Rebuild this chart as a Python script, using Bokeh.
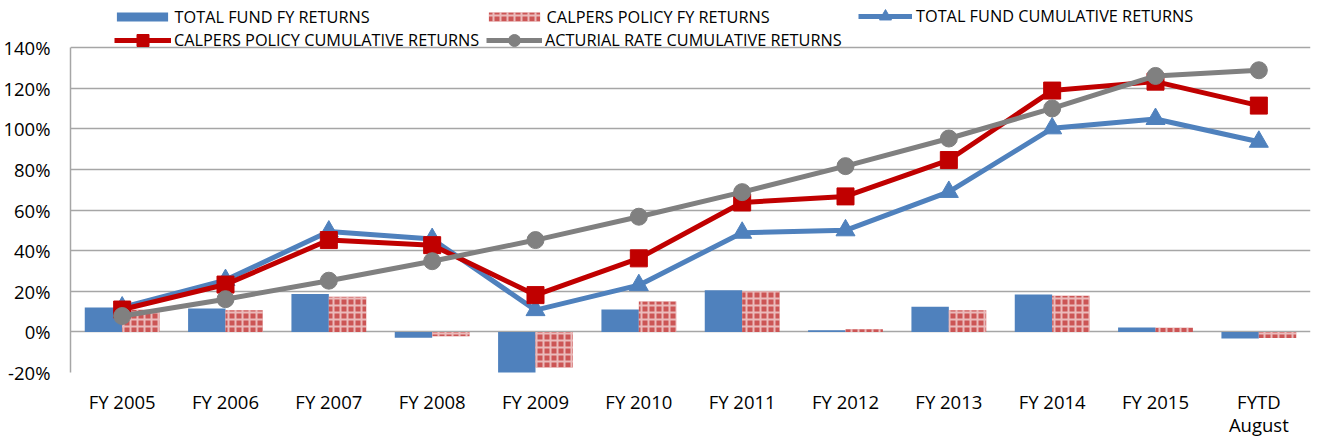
from bokeh.plotting import figure
from bokeh.models import (FactorRange, Range1d, ColumnDataSource, Legend, LegendItem,
                          PrintfTickFormatter, FixedTicker)
from bokeh.transform import dodge
from bokeh.embed import file_html
from bokeh.resources import INLINE

categories = ["FY 2005", "FY 2006", "FY 2007", "FY 2008", "FY 2009", "FY 2010",
              "FY 2011", "FY 2012", "FY 2013", "FY 2014", "FY 2015", "FYTD\nAugust"]
total_fund_fy = [12.0, 11.5, 18.6, -2.9, -21.3, 11.0, 20.5, 0.8, 12.4, 18.4, 2.2, -3.2]
calpers_policy_fy = [10.9, 10.7, 17.3, -2.1, -17.5, 15.0, 20.0, 1.3, 10.7, 17.8, 2.0, -3.0]
total_fund_cum = [12.0, 25.5, 49.4, 45.7, 10.7, 23.0, 48.8, 50.0, 68.9, 100.2, 104.8, 93.6]
calpers_policy_cum = [11.0, 23.3, 45.2, 42.7, 18.1, 36.2, 63.7, 66.7, 84.6, 118.8, 123.2, 111.4]
actuarial_cum = [7.8, 16.1, 25.2, 34.8, 45.2, 56.7, 68.8, 81.6, 95.2, 110.0, 126.0, 128.8]
y_ticks = [-20, 0, 20, 40, 60, 80, 100, 120, 140]
legend_labels = ["TOTAL FUND FY RETURNS", "CALPERS POLICY FY RETURNS",
                 "TOTAL FUND CUMULATIVE RETURNS", "CALPERS POLICY CUMULATIVE RETURNS",
                 "ACTURIAL RATE CUMULATIVE RETURNS"]

src = ColumnDataSource(dict(cat=categories, tf=total_fund_fy, cp=calpers_policy_fy,
                            tfc=total_fund_cum, cpc=calpers_policy_cum, ac=actuarial_cum))

FONT = "Open Sans"
BLUE = "#4F81BD"
RED = "#C00000"
GRAY = "#808080"
GRID = "#A6A6A6"

# frame extends above the 140% line to leave room for the legend rows
p = figure(x_range=FactorRange(*categories, range_padding=0),
           y_range=Range1d(-20, 163.14),
           frame_width=1240, frame_height=372,
           output_backend="svg", toolbar_location=None,
           min_border_left=67, min_border_right=6, min_border_top=0, min_border_bottom=52)
p.outline_line_color = None
p.background_fill_color = "white"

r_b = p.vbar(x=dodge("cat", -0.181, range=p.x_range), top="tf", width=0.362, source=src,
             fill_color=BLUE, line_color=None)
r_r = p.vbar(x=dodge("cat", 0.181, range=p.x_range), top="cp", width=0.362, source=src,
             fill_color="#CC5555", line_color=None, hatch_pattern="cross",
             hatch_color="white", hatch_scale=7, hatch_weight=2.0, hatch_alpha=0.6)

l_b = p.line("cat", "tfc", source=src, line_color=BLUE, line_width=5)
s_b = p.scatter("cat", "tfc", source=src, marker="triangle", size=19, fill_color=BLUE, line_color=BLUE)
l_r = p.line("cat", "cpc", source=src, line_color=RED, line_width=5)
s_r = p.scatter("cat", "cpc", source=src, marker="square", size=17, fill_color=RED, line_color=RED)
l_g = p.line("cat", "ac", source=src, line_color=GRAY, line_width=5)
s_g = p.scatter("cat", "ac", source=src, marker="circle", size=17, fill_color=GRAY, line_color=GRAY)

p.xgrid.grid_line_color = None
p.ygrid.grid_line_color = GRID
p.ygrid.grid_line_width = 1.5
p.ygrid.ticker = FixedTicker(ticks=y_ticks)

p.yaxis.ticker = FixedTicker(ticks=y_ticks)
p.yaxis.bounds = (y_ticks[0], y_ticks[-1])
p.yaxis.formatter = PrintfTickFormatter(format="%d%%")
p.yaxis.axis_line_color = GRID
p.yaxis.axis_line_width = 1.5
p.yaxis.major_tick_line_color = None
p.yaxis.minor_tick_line_color = None
p.yaxis.major_label_standoff = 14
p.yaxis.major_label_text_font = FONT
p.yaxis.major_label_text_font_size = "18.5px"
p.yaxis.major_label_text_color = "black"

p.xaxis.axis_line_color = None
p.xaxis.major_tick_line_color = None
p.xaxis.minor_tick_line_color = None
p.xaxis.major_label_standoff = 10
p.xaxis.major_label_text_font = FONT
p.xaxis.major_label_text_font_size = "18.5px"
p.xaxis.major_label_text_color = "black"
p.xaxis.major_label_text_line_height = 0.93


def add_legend(label, renderers, vx, vy, glyph_w, glyph_h, standoff):
    lg = Legend(items=[LegendItem(label=label, renderers=renderers)],
                location=(vx, vy), padding=0, margin=0, spacing=0,
                border_line_color=None, background_fill_alpha=0,
                glyph_width=glyph_w, glyph_height=glyph_h, label_height=glyph_h,
                label_standoff=standoff, label_text_font=FONT,
                label_text_font_size="16.3px", label_text_color="black")
    p.add_layout(lg, "center")


add_legend(legend_labels[0], [r_b], 39.6, 344.5, 64, 11, 1)
add_legend(legend_labels[1], [r_r], 411.6, 344.5, 64, 11, 1)
add_legend(legend_labels[2], [l_b, s_b], 788, 341, 54, 30, 4)
add_legend(legend_labels[3], [l_r, s_r], 44, 317, 57, 30, 3)
add_legend(legend_labels[4], [l_g, s_g], 416, 317, 56, 30, 3)

open("out.html", "w").write(file_html(p, INLINE))
